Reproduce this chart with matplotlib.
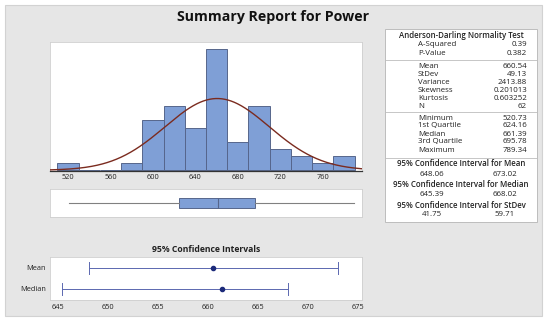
import numpy as np
import matplotlib
matplotlib.use("Agg")
import matplotlib.pyplot as plt
from matplotlib.patches import Rectangle
from matplotlib.lines import Line2D

plt.rcParams['font.family'] = ['Open Sans', 'DejaVu Sans']

# ---------------- data ----------------
bin_centers = [520, 540, 560, 580, 600, 620, 640, 660, 680, 700, 720, 740, 760, 780]
bin_counts = [1, 0, 0, 1, 7, 9, 6, 17, 4, 9, 3, 2, 1, 2]
hist_ticks = [520, 560, 600, 640, 680, 720, 760]

mean_val = 660.54
stdev_val = 49.13
n_val = 62
minimum = 520.73
q1 = 624.16
median_val = 661.39
q3 = 695.78
maximum = 789.34

ci_labels = ["Mean", "Median"]
ci_centers = [660.54, 661.39]
ci_low = [648.06, 645.39]
ci_high = [673.02, 668.02]
ci_ticks = [645, 650, 655, 660, 665, 670, 675]

ad_rows = [("A-Squared", "0.39"), ("P-Value", "0.382")]
desc_rows = [("Mean", "660.54"), ("StDev", "49.13"), ("Variance", "2413.88"),
             ("Skewness", "0.201013"), ("Kurtosis", "0.603252"), ("N", "62")]
quant_rows = [("Minimum", "520.73"), ("1st Quartile", "624.16"), ("Median", "661.39"),
              ("3rd Quartile", "695.78"), ("Maximum", "789.34")]
ci_sections = [("95% Confidence Interval for Mean", "648.06", "673.02"),
               ("95% Confidence Interval for Median", "645.39", "668.02"),
               ("95% Confidence Interval for StDev", "41.75", "59.71")]

# ---------------- layout ----------------
W, H = 550, 324
fig = plt.figure(figsize=(W / 100, H / 100), dpi=100)
fig.patch.set_facecolor('white')


def px_axes(x0, y0, x1, y1, **kw):
    return fig.add_axes([x0 / W, 1 - y1 / H, (x1 - x0) / W, (y1 - y0) / H], **kw)


def fx(x):
    return x / W


def fy(y):
    return 1 - y / H


# gray panel
fig.patches.append(Rectangle((fx(5), fy(316)), fx(537), 311 / H, transform=fig.transFigure,
                             facecolor='#e6e6e6', edgecolor='#d2d2d2', lw=0.8, zorder=-10))

BAR = '#7f9fd6'
BAR_EDGE = '#56668c'
TXT = '#222222'
TICK_FS = 5.3
xlim_main = (503, 797)

fig.text(fx(273.5), fy(17), "Summary Report for Power", ha='center', va='center',
         fontsize=10.2, fontweight='bold', color='#111111')

# ---------------- histogram ----------------
ax = px_axes(50, 42, 362, 171)
ax.bar(bin_centers, bin_counts, width=20, color=BAR, edgecolor=BAR_EDGE, linewidth=0.7, zorder=2)
xs = np.linspace(xlim_main[0], xlim_main[1], 400)
pdf = n_val * 20 / (stdev_val * np.sqrt(2 * np.pi)) * np.exp(-0.5 * ((xs - mean_val) / stdev_val) ** 2)
ax.plot(xs, pdf, color='#7b2b1f', lw=1.0, zorder=3)
ax.set_xlim(*xlim_main)
ax.set_ylim(-0.1, 18)
ax.set_yticks([])
ax.set_xticks(hist_ticks)
ax.tick_params(axis='x', length=0, pad=2.5, labelsize=TICK_FS, colors=TXT)
for s in ['top', 'left', 'right']:
    ax.spines[s].set_color('#cfcfcf')
    ax.spines[s].set_linewidth(0.6)
ax.spines['bottom'].set_color('#333333')
ax.spines['bottom'].set_linewidth(0.9)
ax.set_facecolor('white')

# ---------------- boxplot ----------------
bx = px_axes(50, 189, 362, 217)
bx.bxp([{'med': median_val, 'q1': q1, 'q3': q3, 'whislo': minimum, 'whishi': maximum, 'fliers': []}],
       positions=[0.5], widths=0.34, vert=False, patch_artist=True, showcaps=False,
       boxprops=dict(facecolor=BAR, edgecolor=BAR_EDGE, linewidth=0.7),
       medianprops=dict(color=BAR_EDGE, linewidth=0.8),
       whiskerprops=dict(color='#808080', linewidth=0.8))
bx.set_xlim(*xlim_main)
bx.set_ylim(0, 1)
bx.set_xticks([])
bx.set_yticks([])
for s in bx.spines.values():
    s.set_color('#cfcfcf')
    s.set_linewidth(0.6)

# ---------------- confidence intervals ----------------
cx = px_axes(50, 257, 362, 300)
ypos = [1, 0]
CI_COL = '#5b68b0'
for y, c, lo, hi in zip(ypos, ci_centers, ci_low, ci_high):
    cx.plot([lo, hi], [y, y], color=CI_COL, lw=0.7)
    cx.plot([lo, lo], [y - 0.28, y + 0.28], color=CI_COL, lw=0.7)
    cx.plot([hi, hi], [y - 0.28, y + 0.28], color=CI_COL, lw=0.7)
    cx.plot([c], [y], marker='o', ms=3, color='#1c2a7a', mec='#1c2a7a')
cx.set_xlim(644.2, 675.4)
cx.set_ylim(-0.52, 1.5)
cx.set_xticks(ci_ticks)
cx.set_yticks(ypos)
cx.set_yticklabels(ci_labels)
cx.tick_params(length=0, pad=3, labelsize=TICK_FS, colors=TXT)
for s in cx.spines.values():
    s.set_color('#cfcfcf')
    s.set_linewidth(0.6)
fig.text(fx(206), fy(249), "95% Confidence Intervals", ha='center', va='center',
         fontsize=6.2, fontweight='bold', color=TXT)

# ---------------- statistics table ----------------
TL, TR, TT, TB = 385, 537, 29, 222
fig.patches.append(Rectangle((fx(TL), fy(TB)), (TR - TL) / W, (TB - TT) / H, transform=fig.transFigure,
                             facecolor='white', edgecolor='#bdbdbd', lw=0.7, zorder=1))
TFS = 5.7
lab_x = fx(418)
val_x = fx(527)
cen_x = fx((TL + TR) / 2)


def sep(y):
    fig.lines.append(Line2D([fx(TL), fx(TR)], [fy(y), fy(y)], transform=fig.transFigure,
                            color='#bdbdbd', lw=0.6))


def row(y, lab, val):
    fig.text(lab_x, fy(y), lab, ha='left', va='center', fontsize=TFS, color=TXT)
    fig.text(val_x, fy(y), val, ha='right', va='center', fontsize=TFS, color=TXT)


fig.text(cen_x, fy(36), "Anderson-Darling Normality Test", ha='center', va='center',
         fontsize=TFS, fontweight='semibold', color=TXT)
y = 45
for lab, val in ad_rows:
    row(y, lab, val)
    y += 8.2
sep(60)
y = 66
for lab, val in desc_rows:
    row(y, lab, val)
    y += 8
sep(112)
y = 118
for lab, val in quant_rows:
    row(y, lab, val)
    y += 8
sep(157.5)
y = 164
for title, lo, hi in ci_sections:
    fig.text(cen_x, fy(y), title, ha='center', va='center', fontsize=TFS, fontweight='semibold', color=TXT)
    fig.text(fx(432), fy(y + 10), lo, ha='center', va='center', fontsize=TFS, color=TXT)
    fig.text(fx(505), fy(y + 10), hi, ha='center', va='center', fontsize=TFS, color=TXT)
    y += 20.5

fig.savefig("out.png", dpi=100)
